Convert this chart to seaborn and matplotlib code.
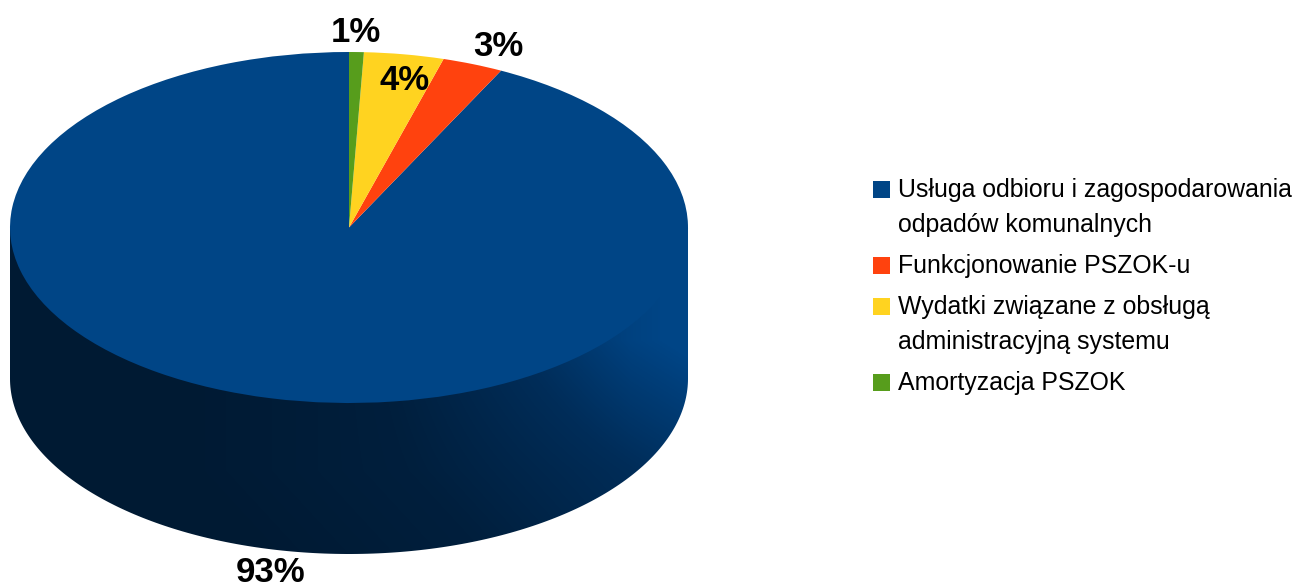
import numpy as np
import matplotlib
matplotlib.use("Agg")
import matplotlib.pyplot as plt
from matplotlib.patches import Polygon, Rectangle
import seaborn as sns

# Values
categories = [
    "Usługa odbioru i zagospodarowania\nodpadów komunalnych",
    "Funkcjonowanie PSZOK-u",
    "Wydatki związane z obsługą\nadministracyjną systemu",
    "Amortyzacja PSZOK",
]
shares = [92.6, 2.9, 3.8, 0.7]
share_labels = ["93%", "3%", "4%", "1%"]
colors = ["#004586", "#ff420e", "#ffd320", "#579d1c"]

W, H = 1297, 586

sns.set_theme(style="white")
plt.rcParams["font.family"] = ["Liberation Sans", "DejaVu Sans"]

fig = plt.figure(figsize=(W / 100, H / 100), dpi=100)

# Pixel canvas for the side wall and the text
ax = fig.add_axes([0, 0, 1, 1])
ax.set_xlim(0, W)
ax.set_ylim(H, 0)
ax.axis("off")

# Pie geometry in pixels
cx, cy, rx, ry, depth = 349, 227.5, 339, 175.5, 151

# Side wall, shaded from dark on the left to the slice colour on the right
side_cmap = sns.blend_palette(["#001a33", "#001f3d", "#002d59", "#004586"], as_cmap=True)
xx, yy = np.meshgrid(np.arange(0, 700), np.arange(200, 570))
shade = np.clip((xx - 180) / 510, 0, 1) * 0.74 + np.clip((470 - yy) / 130, 0, 1) * 0.3 * np.clip((xx - 330) / 300, 0, 1)
shade = shade - np.clip((yy - 470) / 90, 0, 1) * 0.12
img = ax.imshow(shade, extent=(0, 700, 570, 200), cmap=side_cmap, vmin=0, vmax=1,
                aspect="auto", zorder=1)
ax.set_xlim(0, W)
ax.set_ylim(H, 0)
theta = np.linspace(0, np.pi, 200)
outline = np.column_stack([cx + rx * np.cos(theta), cy + depth + ry * np.sin(theta)])
outline = np.vstack([[cx + rx, cy], outline, [cx - rx, cy]])
wall = Polygon(outline, closed=True, transform=ax.transData, facecolor="none", edgecolor="none")
ax.add_patch(wall)
img.set_clip_path(wall)

# Top face: a pie squashed by its own axes
ax_pie = fig.add_axes([(cx - rx) / W, 1 - (cy + ry) / H, 2 * rx / W, 2 * ry / H])
ax_pie.pie(shares, colors=colors, startangle=90, counterclock=True, radius=1,
           wedgeprops={"linewidth": 0})
ax_pie.set_aspect("auto")
ax_pie.set_xlim(-1, 1)
ax_pie.set_ylim(-1, 1)
ax_pie.patch.set_alpha(0)

# Share labels on top of everything
ax_top = fig.add_axes([0, 0, 1, 1])
ax_top.set_xlim(0, W)
ax_top.set_ylim(H, 0)
ax_top.axis("off")
ax_top.patch.set_alpha(0)

label_pos = [(271, 572), (498, 46), (405, 81), (356, 33)]
for text, (x, y) in zip(share_labels, label_pos):
    ax_top.text(x, y, text, ha="center", va="center", fontsize=25, fontweight="bold", color="black")

# Legend
legend_y = [189, 265, 306, 382]
for name, color, y in zip(categories, colors, legend_y):
    ax_top.add_patch(Rectangle((873, y - 8), 17, 17, facecolor=color, edgecolor="none"))
    ax_top.text(898, y - 11, name, ha="left", va="top", fontsize=17.9, color="black", linespacing=1.56)

fig.savefig("out.png", dpi=100)
